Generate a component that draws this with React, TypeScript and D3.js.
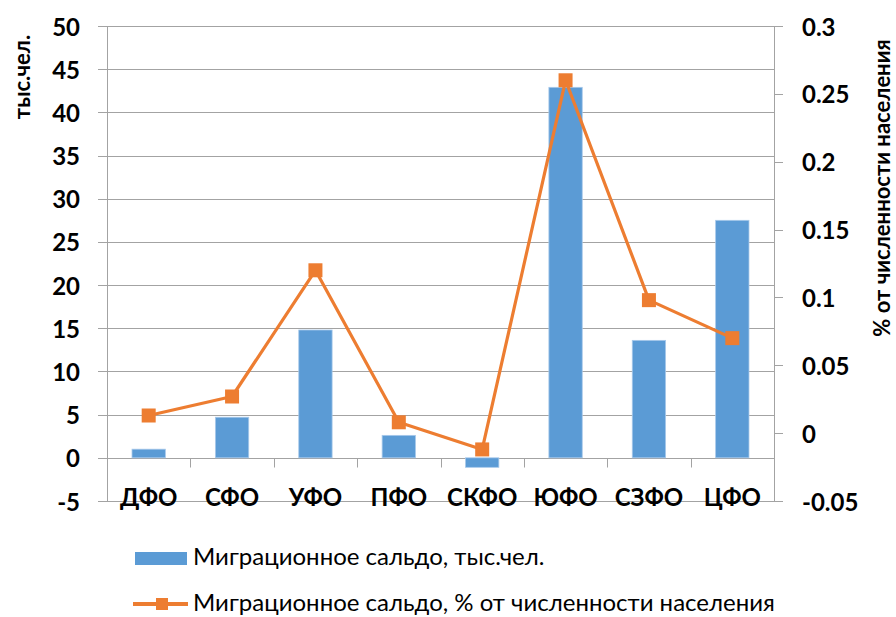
import React from "react";
import * as d3 from "d3";

const categories = ["ДФО", "СФО", "УФО", "ПФО", "СКФО", "ЮФО", "СЗФО", "ЦФО"];
const saldoThousands = [1.0, 4.7, 14.8, 2.6, -1.1, 42.9, 13.6, 27.5];
const saldoPercent = [0.013, 0.027, 0.12, 0.008, -0.012, 0.26, 0.098, 0.07];
const leftTicks = [-5, 0, 5, 10, 15, 20, 25, 30, 35, 40, 45, 50];
const rightTicks = [-0.05, 0, 0.05, 0.1, 0.15, 0.2, 0.25, 0.3];
const leftTitle = "тыс.чел.";
const rightTitle = "% от численности населения";
const legendBar = "Миграционное сальдо, тыс.чел.";
const legendLine = "Миграционное сальдо, % от численности населения";

const W = 896;
const H = 617;
const plotL = 107;
const plotR = 774;
const plotT = 26;
const plotB = 501;

const BLUE = "#5B9BD5";
const ORANGE = "#ED7D31";
const GRID = "#A3A3A3";
const FONT = "Lato, 'Open Sans', sans-serif";

export default function App() {
  const x = d3
    .scaleBand<string>()
    .domain(categories)
    .range([plotL, plotR])
    .paddingInner(0.6)
    .paddingOuter(0.3);
  const xStep = (plotR - plotL) / categories.length;
  const yL = d3.scaleLinear().domain([-5, 50]).range([plotB, plotT]);
  const yR = d3.scaleLinear().domain([-0.05, 0.3]).range([plotB, plotT]);

  const cx = (c: string) => (x(c) as number) + x.bandwidth() / 2;
  const line = d3
    .line<number>()
    .x((_, i) => cx(categories[i]))
    .y((d) => yR(d));

  const fmtR = (v: number) => (v === 0 ? "0" : String(+v.toFixed(2)));
  const snap = (v: number) => Math.round(v) + 0.5;
  const zeroY = snap(yL(0));
  const ms = 14;

  return (
    <svg
      width={W}
      height={H}
      style={{ position: "absolute", left: 0, top: 0, background: "#fff" }}
      fontFamily={FONT}
    >
      <rect x={0} y={0} width={W} height={H} fill="#fff" />
      {/* gridlines (with left tick extension) */}
      {leftTicks.map((t) => (
        <line
          key={"g" + t}
          x1={98}
          x2={plotR}
          y1={snap(yL(t))}
          y2={snap(yL(t))}
          stroke={GRID}
          strokeWidth={1}
        />
      ))}
      {/* left axis line */}
      <line x1={snap(plotL)} x2={snap(plotL)} y1={plotT} y2={plotB + 1} stroke={GRID} strokeWidth={1} />
      {/* right axis line and ticks */}
      <line x1={snap(plotR)} x2={snap(plotR)} y1={plotT} y2={plotB + 1} stroke={GRID} strokeWidth={1} />
      {rightTicks.map((t) => (
        <line
          key={"rt" + t}
          x1={plotR}
          x2={plotR + 9}
          y1={snap(yR(t))}
          y2={snap(yR(t))}
          stroke={GRID}
          strokeWidth={1}
        />
      ))}
      {/* category ticks on zero line */}
      {d3.range(1, categories.length).map((i) => (
        <line
          key={"ct" + i}
          x1={snap(plotL + i * xStep)}
          x2={snap(plotL + i * xStep)}
          y1={zeroY}
          y2={zeroY + 9}
          stroke={GRID}
          strokeWidth={1}
        />
      ))}
      {/* bars */}
      {categories.map((c, i) => {
        const v = saldoThousands[i];
        const y0 = yL(0);
        const y1 = yL(v);
        return (
          <rect
            key={"b" + c}
            x={x(c)}
            y={Math.min(y0, y1)}
            width={x.bandwidth()}
            height={Math.abs(y1 - y0)}
            fill={BLUE}
            stroke="#A8C9EA"
            strokeWidth={0.8}
          />
        );
      })}
      {/* line series */}
      <path d={line(saldoPercent) || ""} fill="none" stroke={ORANGE} strokeWidth={3.2} strokeLinejoin="round" />
      {saldoPercent.map((v, i) => (
        <rect
          key={"m" + i}
          x={cx(categories[i]) - ms / 2}
          y={yR(v) - ms / 2}
          width={ms}
          height={ms}
          fill={ORANGE}
        />
      ))}
      {/* left tick labels */}
      {leftTicks.map((t) => (
        <text
          key={"lt" + t}
          x={80}
          y={yL(t)}
          textAnchor="end"
          dominantBaseline="central"
          fontSize={24}
          fontWeight={700}
          fill="#000"
        >
          {t}
        </text>
      ))}
      {/* right tick labels */}
      {rightTicks.map((t) => (
        <text
          key={"rl" + t}
          x={802}
          y={yR(t)}
          textAnchor="start"
          dominantBaseline="central"
          fontSize={24}
          fontWeight={700}
          fill="#000"
        >
          {fmtR(t)}
        </text>
      ))}
      {/* category labels */}
      {categories.map((c) => (
        <text
          key={"cl" + c}
          x={cx(c)}
          y={496}
          textAnchor="middle"
          dominantBaseline="central"
          fontSize={24}
          fontWeight={700}
          fill="#000"
        >
          {c}
        </text>
      ))}
      {/* axis titles */}
      <text
        transform={`translate(21,77) rotate(-90)`}
        textAnchor="middle"
        dominantBaseline="central"
        fontSize={22}
        fontWeight={700}
        fill="#000"
      >
        {leftTitle}
      </text>
      <text
        transform={`translate(881,188) rotate(-90)`}
        textAnchor="middle"
        dominantBaseline="central"
        fontSize={22}
        fontWeight={700}
        fill="#000"
      >
        {rightTitle}
      </text>
      {/* legend */}
      <rect x={135} y={552} width={52} height={13} fill={BLUE} />
      <text x={193} y={565} fontSize={24} fill="#000">
        {legendBar}
      </text>
      <line x1={133} x2={188} y1={604} y2={604} stroke={ORANGE} strokeWidth={4} />
      <rect x={162 - 6} y={604 - 6} width={12} height={12} fill={ORANGE} />
      <text x={193} y={611} fontSize={24} fill="#000">
        {legendLine}
      </text>
    </svg>
  );
}
